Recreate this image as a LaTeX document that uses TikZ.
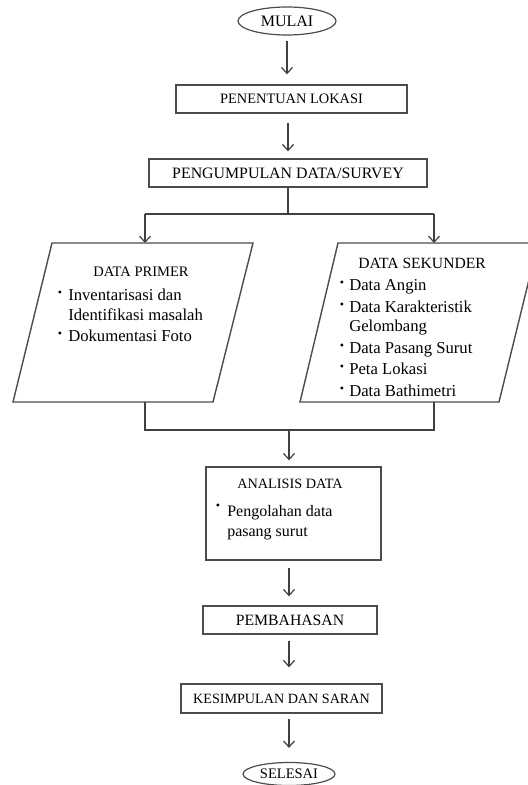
\documentclass[tikz,border=0pt]{standalone}
\usepackage{fontspec}
\setmainfont{Liberation Serif}
\usetikzlibrary{arrows.meta,shapes.geometric}
\tikzset{
  line/.style={draw=black!75, line width=0.9pt},
  arr/.style={line, -{Straight Barb[length=4.5pt,width=8.25pt]}},
  procbox/.style={draw=black!70, line width=1.05pt, rectangle, inner sep=0pt, align=center},
  term/.style={draw=black!70, line width=0.9pt, ellipse, inner sep=0pt},
  capsf/.style={font=\fontsize{#1}{#1}\selectfont},
  txt/.style={inner sep=0pt, anchor=base west, font=\fontsize{12.5pt}{14pt}\selectfont},
  txtb/.style={inner sep=0pt, anchor=base west, font=\fontsize{12pt}{14pt}\selectfont},
  bul/.style={inner sep=0pt, anchor=center, font=\fontsize{9pt}{10pt}\selectfont},
  head/.style={inner sep=0pt, anchor=center},
}
\begin{document}
\begin{tikzpicture}[x=0.75pt,y=-0.75pt]
\useasboundingbox[fill=white] (0,0) rectangle (528,785);
\clip (0,0) rectangle (528,785);

% terminals and process boxes
\node[term, minimum width=73.5pt, minimum height=21pt, capsf=12pt] (mulai) at (287,21) {MULAI};
\node[procbox, minimum width=173.25pt, minimum height=21pt, capsf=10.8pt] (lokasi) at (291.5,99) {PENENTUAN LOKASI};
\node[procbox, minimum width=208.5pt, minimum height=21pt, capsf=11.9pt] (survey) at (288,173) {PENGUMPULAN DATA/SURVEY};

% parallelogram: data primer
\coordinate (p1) at (52,243);
\coordinate (p2) at (253,243);
\coordinate (p3) at (213,402);
\coordinate (p4) at (13,402);
\draw[procbox] (p1) -- (p2) -- (p3) -- (p4) -- cycle;
\node[head, capsf=10.9pt] (primer) at (141,272) {DATA PRIMER};
\node[bul] (pb1) at (60,294) {•};
\node[txt] (pt1) at (68,300) {Inventarisasi dan};
\node[txt] (pt2) at (68,320) {Identifikasi masalah};
\node[bul] (pb2) at (60,335) {•};
\node[txt] (pt3) at (68,341) {Dokumentasi Foto};

% parallelogram: data sekunder
\coordinate (s1) at (338,243);
\coordinate (s2) at (538,243);
\coordinate (s3) at (499,402);
\coordinate (s4) at (300,402);
\draw[procbox] (s1) -- (s2) -- (s3) -- (s4) -- cycle;
\node[head, capsf=11.7pt] (sekunder) at (422,263) {DATA SEKUNDER};
\node[bul] (sb1) at (342,284) {•};
\node[txt] (st1) at (349,290) {Data Angin};
\node[bul] (sb2) at (342,306) {•};
\node[txt] (st2) at (349,312) {Data Karakteristik};
\node[txt] (st3) at (349,331) {Gelombang};
\node[bul] (sb3) at (342,347) {•};
\node[txt] (st4) at (349,353) {Data Pasang Surut};
\node[bul] (sb4) at (342,368) {•};
\node[txt] (st5) at (349,374) {Peta Lokasi};
\node[bul] (sb5) at (342,390) {•};
\node[txt] (st6) at (349,396) {Data Bathimetri};

% analisis data
\node[procbox, minimum width=131.25pt, minimum height=69.75pt] (analisis) at (293.5,513.5) {};
\node[head, capsf=10.7pt] (analisisT) at (290,484) {ANALISIS DATA};
\node[bul] (ab1) at (218,507) {•};
\node[txtb] (at1) at (227,516) {Pengolahan data};
\node[txtb] (at2) at (227,536) {pasang surut};

\node[procbox, minimum width=130.5pt, minimum height=21pt, capsf=11.8pt] (bahas) at (290,620) {PEMBAHASAN};
\node[procbox, minimum width=150.75pt, minimum height=21.75pt, capsf=10.6pt] (kesimpulan) at (281.5,698.5) {KESIMPULAN DAN SARAN};
\node[term, minimum width=69pt, minimum height=17.25pt, capsf=10.9pt] (selesai) at (289,774) {SELESAI};

% connectors
\coordinate (split) at (288,214);
\coordinate (sl) at (145,214);
\coordinate (sr) at (434,214);
\coordinate (pin) at (145,243);
\coordinate (sin) at (434,243);
\coordinate (pout) at (145,402);
\coordinate (sout) at (434,402);
\coordinate (jl) at (145,430);
\coordinate (jr) at (434,430);
\coordinate (join) at (289,430);

\draw[arr, shorten <=3.75pt, shorten >=7.5pt] (mulai.south) -- (mulai.south |- lokasi.north);
\draw[arr, shorten <=6.75pt, shorten >=5.25pt] (survey.north |- lokasi.south) -- (survey.north);
\draw[line] (survey.south) -- (split);
\draw[line] (sl) -- (sr);
\draw[arr] (sl) -- (pin);
\draw[arr] (sr) -- (sin);
\draw[line] (pout) -- (jl) -- (jr) -- (sout);
\draw[arr, shorten >=4.5pt] (join) -- (join |- analisis.north);
\draw[arr, shorten <=5.25pt, shorten >=6.75pt] (analisis.south -| join) -- (join |- bahas.north);
\draw[arr, shorten <=4.5pt, shorten >=12pt] (bahas.south -| join) -- (join |- kesimpulan.north);
\draw[arr, shorten <=3.75pt, shorten >=10.5pt] (kesimpulan.south -| join) -- (join |- selesai.north);
\end{tikzpicture}
\end{document}
